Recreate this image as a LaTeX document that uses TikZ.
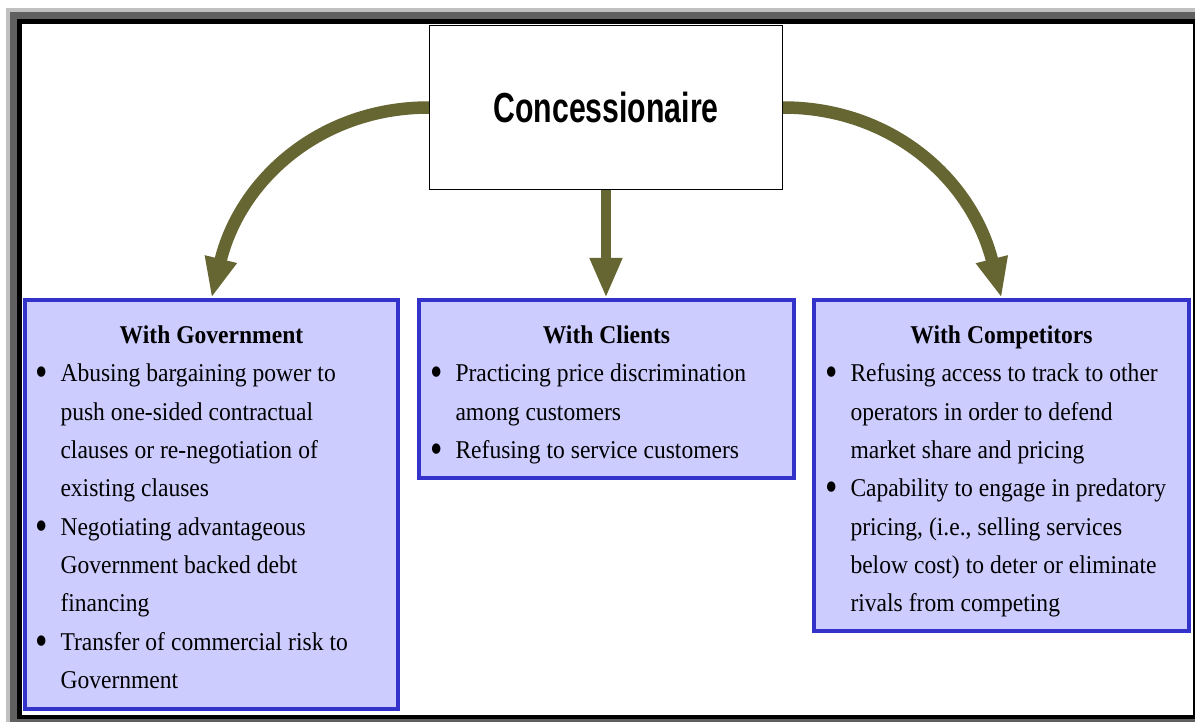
\documentclass[tikz,border=0pt]{standalone}
\usepackage{fontspec}
\setmainfont[FakeStretch=0.92]{Liberation Serif}
\newfontfamily\consfont[FakeStretch=0.72]{Liberation Sans}
\usetikzlibrary{arrows.meta}
\definecolor{arrowcol}{RGB}{102,102,51}
\definecolor{boxblue}{RGB}{51,51,204}
\definecolor{boxfill}{RGB}{204,204,255}
\definecolor{framelight}{RGB}{192,192,192}
\definecolor{framedark}{RGB}{96,96,96}
\newcommand\bmark{\raisebox{-5pt}{\scalebox{1.5}[1.7]{\textbullet}}}
\newcommand\bitem[1]{\par\noindent\hangindent=25pt\hangafter=1\makebox[25pt][l]{\bmark}#1\par}
\newcommand\btitle[1]{{\centering\bfseries\rule{0pt}{20pt}#1\par}}
\newcommand\txtsetup{\spaceskip=6pt plus 1pt\relax\xspaceskip=6pt plus 1pt\relax}
\tikzset{
  boxstyle/.style={draw=boxblue, fill=boxfill, line width=4pt, inner sep=0pt},
  consbox/.style={draw=black, fill=white, line width=1.3pt, inner sep=0pt},
  txtstyle/.style={inner sep=0pt, anchor=north, font=\fontsize{25.6pt}{38.4pt}\selectfont, execute at begin node=\txtsetup},
  arr/.style={draw=arrowcol, line width=12.5pt, -{Triangle[length=40pt,width=30pt]}},
}
\begin{document}
\begin{tikzpicture}[x=1pt,y=-1pt]
\useasboundingbox (0,0) rectangle (1195,722);
% frame
\fill[framelight] (6,8) rectangle (1195,722);
\fill[framedark] (10,12) rectangle (1195,722);
\fill[black] (17,19) rectangle (1195,719);
\fill[white] (22,24) rectangle (1192.7,714.5);
% top box
\node[consbox, minimum width=352.7pt, minimum height=163.7pt] (cons) at (606,107.5)
  {\consfont\bfseries\fontsize{42pt}{50pt}\selectfont Concessionaire};
% lower boxes
\node[boxstyle, minimum width=373pt, minimum height=409pt] (gov) at (211.5,504.5) {};
\node[boxstyle, minimum width=375pt, minimum height=178pt] (cli) at (606.5,389) {};
\node[boxstyle, minimum width=375pt, minimum height=331pt] (comp) at (1001.5,465.5) {};
% texts
\node[txtstyle, text width=352pt] (govtxt) at (211.5,323) {%
  \btitle{With Government}%
  \bitem{Abusing bargaining power to\newline push one-sided contractual\newline clauses or re-negotiation of\newline existing clauses}%
  \bitem{Negotiating advantageous\newline Government backed debt\newline financing}%
  \bitem{Transfer of commercial risk to\newline Government}};
\node[txtstyle, text width=352pt] (clitxt) at (606.5,323) {%
  \btitle{With Clients}%
  \bitem{Practicing price discrimination\newline among customers}%
  \bitem{Refusing to service customers}};
\node[txtstyle, text width=352pt] (comptxt) at (1001.5,323) {%
  \btitle{With Competitors}%
  \bitem{Refusing access to track to other\newline operators in order to defend\newline market share and pricing}%
  \bitem{Capability to engage in predatory\newline pricing, (i.e., selling services\newline below cost) to deter or eliminate\newline rivals from competing}};
% arrows
\draw[arr] (cons.west) .. controls (320,107.5) and (240,180) .. (gov.north);
\draw[arr] (cons.east) .. controls (892,107.5) and (972,180) .. (comp.north);
\draw[arr, line width=10pt] (cons.south) -- (cons.south |- cli.north);
\end{tikzpicture}
\end{document}
